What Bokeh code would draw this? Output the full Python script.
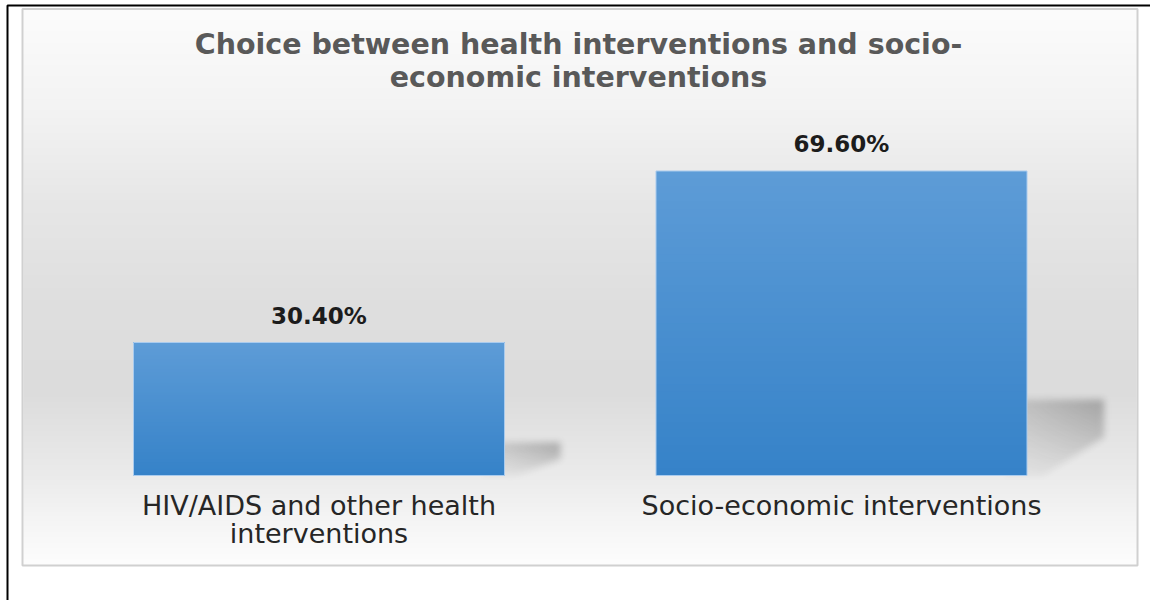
import numpy as np
from bokeh.plotting import figure
from bokeh.models import Range1d, ColumnDataSource, Label, BoxAnnotation
from bokeh.core.properties import value
from bokeh.embed import file_html
from bokeh.resources import INLINE

# ---------------- data ----------------
categories = ["HIV/AIDS and other health\ninterventions", "Socio-economic interventions"]
values = [30.4, 69.6]
value_labels = ["30.40%", "69.60%"]
title_lines = ["Choice between health interventions and socio-", "economic interventions"]

# ---------------- geometry (pixel scale of the chart) ----------------
W, H = 1150, 600
PAGE = 0
XPX = 522.5     # pixels per category step
X0PX = 318.5    # page x of first category centre
YPX = 4.375     # pixels per percentage point
Y0PX = 475      # page y of the baseline
x0 = (PAGE - X0PX) / XPX
x1 = x0 + W / XPX
y1 = (Y0PX - PAGE) / YPX
y0 = y1 - H / YPX
BW = 371 / XPX


def px(v):
    return x0 + (v - PAGE) / XPX


def py(v):
    return y1 - (v - PAGE) / YPX


def rgba_image(r, g, b, a):
    h, w = np.shape(a)
    img = np.zeros((h, w), dtype=np.uint32)
    v8 = img.view(dtype=np.uint8).reshape((h, w, 4))
    v8[..., 0] = r
    v8[..., 1] = g
    v8[..., 2] = b
    v8[..., 3] = a
    return img


def box_blur(a, r, axis):
    pad = [(0, 0), (0, 0)]
    pad[axis] = (r + 1, r)
    ap = np.pad(a, pad, mode="constant")
    c = np.cumsum(ap, axis=axis)
    if axis == 0:
        return (c[2 * r + 1:, :] - c[:-2 * r - 1, :]) / (2 * r + 1)
    return (c[:, 2 * r + 1:] - c[:, :-2 * r - 1]) / (2 * r + 1)


p = figure(width=W, height=H, x_range=Range1d(x0, x1), y_range=Range1d(y0, y1),
           output_backend="svg", toolbar_location=None, min_border=0,
           x_axis_type=None, y_axis_type=None, outline_line_color=None,
           background_fill_color="white", border_fill_color="white")

# ---------------- chart-area gradient background ----------------
bx0, bx1, by0, by1 = 23, 1136, 9, 564
nrows = by1 - by0
rows_page_y = by1 - 0.5 - np.arange(nrows)
stops_y = [9, 110, 200, 300, 390, 475, 520, 564]
stops_g = [252, 243, 231, 223, 220, 235, 245, 253]
gv = np.interp(rows_page_y, stops_y, stops_g).astype(np.uint8).reshape(nrows, 1)
bg = rgba_image(gv, gv, gv, np.full((nrows, 1), 255, dtype=np.uint8))
p.image_rgba(image=[bg], x=px(bx0), y=py(by1), dw=(bx1 - bx0) / XPX, dh=(by1 - by0) / YPX)

# ---------------- perspective shadows ----------------
idx = list(range(len(categories)))
for i, v in zip(idx, values):
    hpx = v * YPX
    top = 0.25 * hpx
    dx = 40 + 0.12 * hpx
    pad = 14
    left = -pad - 10
    Wd = int(np.ceil(dx + 2 * pad + 10))
    Hd = int(np.ceil(top + 2 * pad))
    xs = np.arange(Wd) + left + 0.5
    ys = np.arange(Hd) - pad + 0.5
    X, Y = np.meshgrid(xs, ys)
    inside = (X <= dx) & (Y <= top) & (Y >= 0)
    inside &= Y >= 0.5 * top * (X - 0.2 * dx) / (0.8 * dx)
    a = inside * (0.25 + 0.75 * np.clip(Y / top, 0, 1)) * (0.55 + 0.45 * np.clip(X / dx, 0, 1))
    for _ in range(3):
        a = box_blur(a, 3, 0)
        a = box_blur(a, 3, 1)
    alpha = np.clip(a * 0.42 * 255, 0, 255).astype(np.uint8)
    sh = rgba_image(80, 80, 80, alpha)
    p.image_rgba(image=[sh], x=i + BW / 2 + left / XPX, y=-pad / YPX, dw=Wd / XPX, dh=Hd / YPX)

# ---------------- bars ----------------
src = ColumnDataSource(dict(x=idx, top=values, label=value_labels, cat=categories))
p.vbar(x="x", top="top", width=BW, fill_color="#4a8fd0", line_color=None, source=src)

N = 40
bot_rgb = np.array([54, 130, 200])
top_rgb = np.array([93, 156, 215])
sx, sb, st, sc = [], [], [], []
for i, v in zip(idx, values):
    for k in range(N):
        t = (k + 0.5) / N
        c = bot_rgb + (top_rgb - bot_rgb) * t
        sx.append(i)
        sb.append(v * k / N)
        st.append(v)
        sc.append("#%02x%02x%02x" % tuple(int(round(q)) for q in c))
p.vbar(x=sx, bottom=sb, top=st, width=BW, fill_color=sc, line_color=None)
p.vbar(x="x", top="top", width=BW, fill_alpha=0, line_color="#a9cbee", line_width=1, source=src)

# ---------------- texts ----------------
p.text(x="x", y="top", text="label", source=src, text_align="center", text_baseline="alphabetic",
       y_offset=-27, text_font=value("DejaVu Sans"), text_font_style="bold",
       text_font_size="23px", text_color="#1c1c1c")

p.text(x="x", y=0, text="cat", source=src, text_align="center", text_baseline="top",
       y_offset=14, text_font=value("DejaVu Sans"), text_font_size="27px",
       text_color="#262626", text_line_height=0.91)

for line, base in zip(title_lines, [44, 77]):
    p.add_layout(Label(x=px(578), y=py(base), text=line, text_align="center",
                       text_baseline="alphabetic", text_font="DejaVu Sans",
                       text_font_style="bold", text_font_size="28.5px", text_color="#595959"))

# ---------------- frames ----------------
p.add_layout(BoxAnnotation(left=px(bx0 - 1), right=px(bx1 + 1), top=py(by0 - 0.5), bottom=py(by1 + 1),
                           fill_alpha=0, line_color="#d0d0d0", line_alpha=1.0, line_width=2))
# outer black frame: only its left and top edges fall inside the picture
p.add_layout(BoxAnnotation(left=px(7), top=py(5), right=px(1170), bottom=py(640),
                           fill_alpha=0, line_color="black", line_alpha=1.0, line_width=2))

open("out.html", "w").write(file_html(p, INLINE))
